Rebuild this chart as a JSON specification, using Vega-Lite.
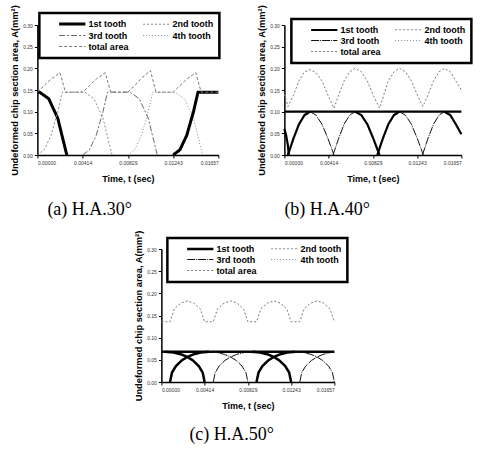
{
"$schema": "https://vega.github.io/schema/vega-lite/v6.json",
"background": "white",
"padding": {"left": 10, "top": 4, "right": 2, "bottom": 2},
"config": {
 "view": {"stroke": null},
 "font": "Liberation Sans",
 "axis": {"domainColor": "black", "domainWidth": 1.5, "tickColor": "black", "tickSize": 3, "labelFontSize": 5, "labelColor": "#333", "titleFontSize": 9, "titleFontWeight": "bold", "titleColor": "black", "grid": false, "labelPadding": 2},
 "axisX": {"titlePadding": 9},
 "axisY": {"titleFontSize": 9.3, "titlePadding": 3},
 "legend": {"strokeWidth": 2.5, "orient": "none", "columns": 2, "direction": "horizontal", "title": null, "symbolType": "M2.5,0H10", "symbolSize": 49, "labelOffset": 33, "labelFontSize": 9, "labelFontWeight": "bold", "labelColor": "black", "strokeColor": "black", "fillColor": "white", "padding": 6, "columnPadding": 0, "rowPadding": 1},
 "title": {"font": "Liberation Serif", "fontSize": 18, "fontWeight": "normal", "orient": "bottom", "anchor": "start", "frame": "group", "offset": 18, "color": "black"}
},
"datasets": {
 "curves": [
  {"panel":"a","series":"1st tooth","seg":"a1","t_ms":0,"A":0.145},
  {"panel":"a","series":"1st tooth","seg":"a1","t_ms":0.207,"A":0.145},
  {"panel":"a","series":"1st tooth","seg":"a1","t_ms":1.036,"A":0.13},
  {"panel":"a","series":"1st tooth","seg":"a1","t_ms":1.864,"A":0.085},
  {"panel":"a","series":"1st tooth","seg":"a1","t_ms":2.693,"A":0},
  {"panel":"a","series":"2nd tooth","seg":"a2","t_ms":0,"A":0},
  {"panel":"a","series":"2nd tooth","seg":"a2","t_ms":0.621,"A":0.012},
  {"panel":"a","series":"2nd tooth","seg":"a2","t_ms":1.243,"A":0.045},
  {"panel":"a","series":"2nd tooth","seg":"a2","t_ms":1.864,"A":0.1},
  {"panel":"a","series":"2nd tooth","seg":"a2","t_ms":2.278,"A":0.145},
  {"panel":"a","series":"2nd tooth","seg":"a2","t_ms":4.350,"A":0.145},
  {"panel":"a","series":"2nd tooth","seg":"a2","t_ms":5.178,"A":0.13},
  {"panel":"a","series":"2nd tooth","seg":"a2","t_ms":6.007,"A":0.085},
  {"panel":"a","series":"2nd tooth","seg":"a2","t_ms":6.835,"A":0},
  {"panel":"a","series":"3rd tooth","seg":"a3","t_ms":4.143,"A":0},
  {"panel":"a","series":"3rd tooth","seg":"a3","t_ms":4.764,"A":0.012},
  {"panel":"a","series":"3rd tooth","seg":"a3","t_ms":5.385,"A":0.045},
  {"panel":"a","series":"3rd tooth","seg":"a3","t_ms":6.006,"A":0.1},
  {"panel":"a","series":"3rd tooth","seg":"a3","t_ms":6.421,"A":0.145},
  {"panel":"a","series":"3rd tooth","seg":"a3","t_ms":8.492,"A":0.145},
  {"panel":"a","series":"3rd tooth","seg":"a3","t_ms":9.321,"A":0.13},
  {"panel":"a","series":"3rd tooth","seg":"a3","t_ms":10.149,"A":0.085},
  {"panel":"a","series":"3rd tooth","seg":"a3","t_ms":10.978,"A":0},
  {"panel":"a","series":"4th tooth","seg":"a4","t_ms":8.285,"A":0},
  {"panel":"a","series":"4th tooth","seg":"a4","t_ms":8.906,"A":0.012},
  {"panel":"a","series":"4th tooth","seg":"a4","t_ms":9.527,"A":0.045},
  {"panel":"a","series":"4th tooth","seg":"a4","t_ms":10.149,"A":0.1},
  {"panel":"a","series":"4th tooth","seg":"a4","t_ms":10.563,"A":0.145},
  {"panel":"a","series":"4th tooth","seg":"a4","t_ms":12.635,"A":0.145},
  {"panel":"a","series":"4th tooth","seg":"a4","t_ms":13.463,"A":0.13},
  {"panel":"a","series":"4th tooth","seg":"a4","t_ms":14.292,"A":0.085},
  {"panel":"a","series":"4th tooth","seg":"a4","t_ms":15.120,"A":0},
  {"panel":"a","series":"1st tooth","seg":"a5","t_ms":12.428,"A":0},
  {"panel":"a","series":"1st tooth","seg":"a5","t_ms":13.049,"A":0.012},
  {"panel":"a","series":"1st tooth","seg":"a5","t_ms":13.670,"A":0.045},
  {"panel":"a","series":"1st tooth","seg":"a5","t_ms":14.292,"A":0.1},
  {"panel":"a","series":"1st tooth","seg":"a5","t_ms":14.706,"A":0.145},
  {"panel":"a","series":"1st tooth","seg":"a5","t_ms":16.57,"A":0.145},
  {"panel":"a","series":"total area","seg":"a6","t_ms":0,"A":0.145},
  {"panel":"a","series":"total area","seg":"a6","t_ms":0.621,"A":0.16},
  {"panel":"a","series":"total area","seg":"a6","t_ms":1.243,"A":0.175},
  {"panel":"a","series":"total area","seg":"a6","t_ms":2.071,"A":0.19},
  {"panel":"a","series":"total area","seg":"a6","t_ms":2.568,"A":0.145},
  {"panel":"a","series":"total area","seg":"a6","t_ms":4.143,"A":0.145},
  {"panel":"a","series":"total area","seg":"a6","t_ms":4.764,"A":0.16},
  {"panel":"a","series":"total area","seg":"a6","t_ms":5.385,"A":0.175},
  {"panel":"a","series":"total area","seg":"a6","t_ms":6.214,"A":0.19},
  {"panel":"a","series":"total area","seg":"a6","t_ms":6.711,"A":0.145},
  {"panel":"a","series":"total area","seg":"a6","t_ms":8.285,"A":0.145},
  {"panel":"a","series":"total area","seg":"a6","t_ms":8.906,"A":0.16},
  {"panel":"a","series":"total area","seg":"a6","t_ms":9.527,"A":0.177},
  {"panel":"a","series":"total area","seg":"a6","t_ms":10.356,"A":0.195},
  {"panel":"a","series":"total area","seg":"a6","t_ms":10.853,"A":0.145},
  {"panel":"a","series":"total area","seg":"a6","t_ms":12.428,"A":0.145},
  {"panel":"a","series":"total area","seg":"a6","t_ms":13.049,"A":0.16},
  {"panel":"a","series":"total area","seg":"a6","t_ms":13.670,"A":0.175},
  {"panel":"a","series":"total area","seg":"a6","t_ms":14.499,"A":0.19},
  {"panel":"a","series":"total area","seg":"a6","t_ms":14.996,"A":0.145},
  {"panel":"a","series":"total area","seg":"a6","t_ms":16.57,"A":0.145},

  {"panel":"b","series":"1st tooth","seg":"b1","t_ms":0,"A":0.06},
  {"panel":"b","series":"1st tooth","seg":"b1","t_ms":0.166,"A":0.045},
  {"panel":"b","series":"1st tooth","seg":"b1","t_ms":0.331,"A":0.022},
  {"panel":"b","series":"1st tooth","seg":"b1","t_ms":0.414,"A":0},
  {"panel":"b","series":"1st tooth","seg":"b2","t_ms":0.331,"A":0},
  {"panel":"b","series":"1st tooth","seg":"b2","t_ms":0.849,"A":0.038},
  {"panel":"b","series":"1st tooth","seg":"b2","t_ms":1.367,"A":0.071},
  {"panel":"b","series":"1st tooth","seg":"b2","t_ms":1.885,"A":0.092},
  {"panel":"b","series":"1st tooth","seg":"b2","t_ms":2.403,"A":0.1},
  {"panel":"b","series":"1st tooth","seg":"b3","t_ms":6.628,"A":0.1},
  {"panel":"b","series":"1st tooth","seg":"b3","t_ms":7.208,"A":0.092},
  {"panel":"b","series":"1st tooth","seg":"b3","t_ms":7.767,"A":0.071},
  {"panel":"b","series":"1st tooth","seg":"b3","t_ms":8.326,"A":0.038},
  {"panel":"b","series":"1st tooth","seg":"b3","t_ms":8.906,"A":0},
  {"panel":"b","series":"1st tooth","seg":"b4","t_ms":8.699,"A":0},
  {"panel":"b","series":"1st tooth","seg":"b4","t_ms":9.217,"A":0.038},
  {"panel":"b","series":"1st tooth","seg":"b4","t_ms":9.735,"A":0.071},
  {"panel":"b","series":"1st tooth","seg":"b4","t_ms":10.253,"A":0.092},
  {"panel":"b","series":"1st tooth","seg":"b4","t_ms":10.771,"A":0.1},
  {"panel":"b","series":"1st tooth","seg":"b5","t_ms":14.996,"A":0.1},
  {"panel":"b","series":"1st tooth","seg":"b5","t_ms":15.534,"A":0.092},
  {"panel":"b","series":"1st tooth","seg":"b5","t_ms":16.052,"A":0.071},
  {"panel":"b","series":"1st tooth","seg":"b5","t_ms":16.57,"A":0.048},
  {"panel":"b","series":"1st tooth","seg":"b6","t_ms":0,"A":0.1},
  {"panel":"b","series":"1st tooth","seg":"b6","t_ms":16.57,"A":0.1},
  {"panel":"b","series":"3rd tooth","seg":"c1","t_ms":2.403,"A":0.1},
  {"panel":"b","series":"3rd tooth","seg":"c1","t_ms":2.962,"A":0.092},
  {"panel":"b","series":"3rd tooth","seg":"c1","t_ms":3.521,"A":0.071},
  {"panel":"b","series":"3rd tooth","seg":"c1","t_ms":4.080,"A":0.038},
  {"panel":"b","series":"3rd tooth","seg":"c1","t_ms":4.640,"A":0},
  {"panel":"b","series":"3rd tooth","seg":"c2","t_ms":4.557,"A":0},
  {"panel":"b","series":"3rd tooth","seg":"c2","t_ms":5.075,"A":0.038},
  {"panel":"b","series":"3rd tooth","seg":"c2","t_ms":5.592,"A":0.071},
  {"panel":"b","series":"3rd tooth","seg":"c2","t_ms":6.110,"A":0.092},
  {"panel":"b","series":"3rd tooth","seg":"c2","t_ms":6.628,"A":0.1},
  {"panel":"b","series":"3rd tooth","seg":"c3","t_ms":10.771,"A":0.1},
  {"panel":"b","series":"3rd tooth","seg":"c3","t_ms":11.330,"A":0.092},
  {"panel":"b","series":"3rd tooth","seg":"c3","t_ms":11.889,"A":0.071},
  {"panel":"b","series":"3rd tooth","seg":"c3","t_ms":12.448,"A":0.038},
  {"panel":"b","series":"3rd tooth","seg":"c3","t_ms":13.007,"A":0},
  {"panel":"b","series":"3rd tooth","seg":"c4","t_ms":12.925,"A":0},
  {"panel":"b","series":"3rd tooth","seg":"c4","t_ms":13.442,"A":0.038},
  {"panel":"b","series":"3rd tooth","seg":"c4","t_ms":13.960,"A":0.071},
  {"panel":"b","series":"3rd tooth","seg":"c4","t_ms":14.478,"A":0.092},
  {"panel":"b","series":"3rd tooth","seg":"c4","t_ms":14.996,"A":0.1},
  {"panel":"b","series":"total area","seg":"w","t_ms":0,"A":0.14},
  {"panel":"b","series":"total area","seg":"w","t_ms":0.331,"A":0.112},
  {"panel":"b","series":"total area","seg":"w","t_ms":0.849,"A":0.138},
  {"panel":"b","series":"total area","seg":"w","t_ms":1.367,"A":0.171},
  {"panel":"b","series":"total area","seg":"w","t_ms":1.885,"A":0.192},
  {"panel":"b","series":"total area","seg":"w","t_ms":2.403,"A":0.197},
  {"panel":"b","series":"total area","seg":"w","t_ms":2.962,"A":0.19},
  {"panel":"b","series":"total area","seg":"w","t_ms":3.521,"A":0.171},
  {"panel":"b","series":"total area","seg":"w","t_ms":4.080,"A":0.138},
  {"panel":"b","series":"total area","seg":"w","t_ms":4.640,"A":0.108},
  {"panel":"b","series":"total area","seg":"w","t_ms":5.075,"A":0.138},
  {"panel":"b","series":"total area","seg":"w","t_ms":5.592,"A":0.171},
  {"panel":"b","series":"total area","seg":"w","t_ms":6.110,"A":0.192},
  {"panel":"b","series":"total area","seg":"w","t_ms":6.628,"A":0.2},
  {"panel":"b","series":"total area","seg":"w","t_ms":7.208,"A":0.192},
  {"panel":"b","series":"total area","seg":"w","t_ms":7.767,"A":0.171},
  {"panel":"b","series":"total area","seg":"w","t_ms":8.326,"A":0.138},
  {"panel":"b","series":"total area","seg":"w","t_ms":8.906,"A":0.108},
  {"panel":"b","series":"total area","seg":"w","t_ms":9.321,"A":0.14},
  {"panel":"b","series":"total area","seg":"w","t_ms":9.735,"A":0.171},
  {"panel":"b","series":"total area","seg":"w","t_ms":10.253,"A":0.192},
  {"panel":"b","series":"total area","seg":"w","t_ms":10.771,"A":0.2},
  {"panel":"b","series":"total area","seg":"w","t_ms":11.330,"A":0.192},
  {"panel":"b","series":"total area","seg":"w","t_ms":11.889,"A":0.171},
  {"panel":"b","series":"total area","seg":"w","t_ms":12.448,"A":0.138},
  {"panel":"b","series":"total area","seg":"w","t_ms":12.966,"A":0.112},
  {"panel":"b","series":"total area","seg":"w","t_ms":13.442,"A":0.138},
  {"panel":"b","series":"total area","seg":"w","t_ms":13.960,"A":0.171},
  {"panel":"b","series":"total area","seg":"w","t_ms":14.478,"A":0.192},
  {"panel":"b","series":"total area","seg":"w","t_ms":14.996,"A":0.2},
  {"panel":"b","series":"total area","seg":"w","t_ms":15.534,"A":0.192},
  {"panel":"b","series":"total area","seg":"w","t_ms":16.052,"A":0.171},
  {"panel":"b","series":"total area","seg":"w","t_ms":16.57,"A":0.15},

  {"panel":"c","series":"1st tooth","seg":"h0","t_ms":0,"A":0.068},
  {"panel":"c","series":"1st tooth","seg":"h0","t_ms":16.57,"A":0.068},
  {"panel":"c","series":"1st tooth","seg":"h1f","t_ms":0.414,"A":0.068},
  {"panel":"c","series":"1st tooth","seg":"h1f","t_ms":1.160,"A":0.0666},
  {"panel":"c","series":"1st tooth","seg":"h1f","t_ms":1.906,"A":0.0623},
  {"panel":"c","series":"1st tooth","seg":"h1f","t_ms":2.486,"A":0.0565},
  {"panel":"c","series":"1st tooth","seg":"h1f","t_ms":3.024,"A":0.0486},
  {"panel":"c","series":"1st tooth","seg":"h1f","t_ms":3.583,"A":0.0358},
  {"panel":"c","series":"1st tooth","seg":"h1f","t_ms":3.956,"A":0.0212},
  {"panel":"c","series":"1st tooth","seg":"h1f","t_ms":4.143,"A":0},
  {"panel":"c","series":"1st tooth","seg":"h2r","t_ms":0.829,"A":0},
  {"panel":"c","series":"1st tooth","seg":"h2r","t_ms":1.015,"A":0.0212},
  {"panel":"c","series":"1st tooth","seg":"h2r","t_ms":1.388,"A":0.0358},
  {"panel":"c","series":"1st tooth","seg":"h2r","t_ms":1.947,"A":0.0486},
  {"panel":"c","series":"1st tooth","seg":"h2r","t_ms":2.486,"A":0.0565},
  {"panel":"c","series":"1st tooth","seg":"h2r","t_ms":3.065,"A":0.0623},
  {"panel":"c","series":"1st tooth","seg":"h2r","t_ms":3.811,"A":0.0666},
  {"panel":"c","series":"1st tooth","seg":"h2r","t_ms":4.557,"A":0.068},
  {"panel":"c","series":"3rd tooth","seg":"h2f","t_ms":4.557,"A":0.068},
  {"panel":"c","series":"3rd tooth","seg":"h2f","t_ms":5.302,"A":0.0666},
  {"panel":"c","series":"3rd tooth","seg":"h2f","t_ms":6.048,"A":0.0623},
  {"panel":"c","series":"3rd tooth","seg":"h2f","t_ms":6.628,"A":0.0565},
  {"panel":"c","series":"3rd tooth","seg":"h2f","t_ms":7.167,"A":0.0486},
  {"panel":"c","series":"3rd tooth","seg":"h2f","t_ms":7.726,"A":0.0358},
  {"panel":"c","series":"3rd tooth","seg":"h2f","t_ms":8.098,"A":0.0212},
  {"panel":"c","series":"3rd tooth","seg":"h2f","t_ms":8.285,"A":0},
  {"panel":"c","series":"3rd tooth","seg":"h3r","t_ms":4.971,"A":0},
  {"panel":"c","series":"3rd tooth","seg":"h3r","t_ms":5.157,"A":0.0212},
  {"panel":"c","series":"3rd tooth","seg":"h3r","t_ms":5.530,"A":0.0358},
  {"panel":"c","series":"3rd tooth","seg":"h3r","t_ms":6.090,"A":0.0486},
  {"panel":"c","series":"3rd tooth","seg":"h3r","t_ms":6.628,"A":0.0565},
  {"panel":"c","series":"3rd tooth","seg":"h3r","t_ms":7.208,"A":0.0623},
  {"panel":"c","series":"3rd tooth","seg":"h3r","t_ms":7.954,"A":0.0666},
  {"panel":"c","series":"3rd tooth","seg":"h3r","t_ms":8.699,"A":0.068},
  {"panel":"c","series":"1st tooth","seg":"h3f","t_ms":8.699,"A":0.068},
  {"panel":"c","series":"1st tooth","seg":"h3f","t_ms":9.445,"A":0.0666},
  {"panel":"c","series":"1st tooth","seg":"h3f","t_ms":10.191,"A":0.0623},
  {"panel":"c","series":"1st tooth","seg":"h3f","t_ms":10.771,"A":0.0565},
  {"panel":"c","series":"1st tooth","seg":"h3f","t_ms":11.309,"A":0.0486},
  {"panel":"c","series":"1st tooth","seg":"h3f","t_ms":11.868,"A":0.0358},
  {"panel":"c","series":"1st tooth","seg":"h3f","t_ms":12.241,"A":0.0212},
  {"panel":"c","series":"1st tooth","seg":"h3f","t_ms":12.428,"A":0},
  {"panel":"c","series":"1st tooth","seg":"h4r","t_ms":9.114,"A":0},
  {"panel":"c","series":"1st tooth","seg":"h4r","t_ms":9.300,"A":0.0212},
  {"panel":"c","series":"1st tooth","seg":"h4r","t_ms":9.673,"A":0.0358},
  {"panel":"c","series":"1st tooth","seg":"h4r","t_ms":10.232,"A":0.0486},
  {"panel":"c","series":"1st tooth","seg":"h4r","t_ms":10.771,"A":0.0565},
  {"panel":"c","series":"1st tooth","seg":"h4r","t_ms":11.350,"A":0.0623},
  {"panel":"c","series":"1st tooth","seg":"h4r","t_ms":12.096,"A":0.0666},
  {"panel":"c","series":"1st tooth","seg":"h4r","t_ms":12.842,"A":0.068},
  {"panel":"c","series":"3rd tooth","seg":"h4f","t_ms":12.842,"A":0.068},
  {"panel":"c","series":"3rd tooth","seg":"h4f","t_ms":13.587,"A":0.0666},
  {"panel":"c","series":"3rd tooth","seg":"h4f","t_ms":14.333,"A":0.0623},
  {"panel":"c","series":"3rd tooth","seg":"h4f","t_ms":14.913,"A":0.0565},
  {"panel":"c","series":"3rd tooth","seg":"h4f","t_ms":15.452,"A":0.0486},
  {"panel":"c","series":"3rd tooth","seg":"h4f","t_ms":16.011,"A":0.0358},
  {"panel":"c","series":"3rd tooth","seg":"h4f","t_ms":16.383,"A":0.0212},
  {"panel":"c","series":"3rd tooth","seg":"h4f","t_ms":16.57,"A":0},
  {"panel":"c","series":"3rd tooth","seg":"h5r","t_ms":13.256,"A":0},
  {"panel":"c","series":"3rd tooth","seg":"h5r","t_ms":13.442,"A":0.0212},
  {"panel":"c","series":"3rd tooth","seg":"h5r","t_ms":13.815,"A":0.0358},
  {"panel":"c","series":"3rd tooth","seg":"h5r","t_ms":14.375,"A":0.0486},
  {"panel":"c","series":"3rd tooth","seg":"h5r","t_ms":14.913,"A":0.0565},
  {"panel":"c","series":"3rd tooth","seg":"h5r","t_ms":15.493,"A":0.0623},
  {"panel":"c","series":"3rd tooth","seg":"h5r","t_ms":16.239,"A":0.0666},
  {"panel":"c","series":"3rd tooth","seg":"h5r","t_ms":16.57,"A":0.0676},
  {"panel":"c","series":"total area","seg":"w","t_ms":0,"A":0.135},
  {"panel":"c","series":"total area","seg":"w","t_ms":0.414,"A":0.136},
  {"panel":"c","series":"total area","seg":"w","t_ms":0.829,"A":0.136},
  {"panel":"c","series":"total area","seg":"w","t_ms":1.243,"A":0.165},
  {"panel":"c","series":"total area","seg":"w","t_ms":1.864,"A":0.178},
  {"panel":"c","series":"total area","seg":"w","t_ms":2.486,"A":0.183},
  {"panel":"c","series":"total area","seg":"w","t_ms":3.107,"A":0.178},
  {"panel":"c","series":"total area","seg":"w","t_ms":3.728,"A":0.165},
  {"panel":"c","series":"total area","seg":"w","t_ms":4.143,"A":0.136},
  {"panel":"c","series":"total area","seg":"w","t_ms":4.557,"A":0.136},
  {"panel":"c","series":"total area","seg":"w","t_ms":4.971,"A":0.136},
  {"panel":"c","series":"total area","seg":"w","t_ms":5.385,"A":0.165},
  {"panel":"c","series":"total area","seg":"w","t_ms":6.007,"A":0.178},
  {"panel":"c","series":"total area","seg":"w","t_ms":6.628,"A":0.183},
  {"panel":"c","series":"total area","seg":"w","t_ms":7.249,"A":0.178},
  {"panel":"c","series":"total area","seg":"w","t_ms":7.871,"A":0.165},
  {"panel":"c","series":"total area","seg":"w","t_ms":8.285,"A":0.136},
  {"panel":"c","series":"total area","seg":"w","t_ms":8.699,"A":0.136},
  {"panel":"c","series":"total area","seg":"w","t_ms":9.114,"A":0.136},
  {"panel":"c","series":"total area","seg":"w","t_ms":9.527,"A":0.165},
  {"panel":"c","series":"total area","seg":"w","t_ms":10.149,"A":0.178},
  {"panel":"c","series":"total area","seg":"w","t_ms":10.771,"A":0.183},
  {"panel":"c","series":"total area","seg":"w","t_ms":11.392,"A":0.178},
  {"panel":"c","series":"total area","seg":"w","t_ms":12.013,"A":0.165},
  {"panel":"c","series":"total area","seg":"w","t_ms":12.428,"A":0.136},
  {"panel":"c","series":"total area","seg":"w","t_ms":12.842,"A":0.136},
  {"panel":"c","series":"total area","seg":"w","t_ms":13.256,"A":0.136},
  {"panel":"c","series":"total area","seg":"w","t_ms":13.670,"A":0.165},
  {"panel":"c","series":"total area","seg":"w","t_ms":14.292,"A":0.178},
  {"panel":"c","series":"total area","seg":"w","t_ms":14.913,"A":0.183},
  {"panel":"c","series":"total area","seg":"w","t_ms":15.535,"A":0.178},
  {"panel":"c","series":"total area","seg":"w","t_ms":16.156,"A":0.165},
  {"panel":"c","series":"total area","seg":"w","t_ms":16.57,"A":0.136}
 ]
},
"vconcat": [
 {
  "hconcat": [
   {
    "title": {"text": "(a)  H.A.30°", "dx": 10},
    "width": 181, "height": 130,
    "data": {"name": "curves"},
    "transform": [{"filter": "datum.panel == 'a'"}],
    "mark": {"type": "line"},
    "encoding": {
     "x": {"field": "t_ms", "type": "quantitative", "scale": {"domain": [0, 16.57], "nice": false}, "axis": {"values": [0, 4.1425, 8.285, 12.4275, 16.57], "labelExpr": "format(datum.value/1000, '.5f')", "title": "Time, t (sec)"}},
     "y": {"field": "A", "type": "quantitative", "scale": {"domain": [0, 0.3], "nice": false}, "axis": {"values": [0, 0.05, 0.1, 0.15, 0.2, 0.25, 0.3], "format": ".2f", "title": "Undeformed chip section area, A(mm²)"}},
     "detail": {"field": "seg"},
     "color": {"field": "series", "type": "nominal", "scale": {"domain": ["1st tooth","2nd tooth","3rd tooth","4th tooth","total area"], "range": ["#000000","#8a8a8a","#6a6a6a","#8a8a8a","#7a7a7a"]},
      "legend": {"legendX": 2, "legendY": -12}},
     "strokeDash": {"field": "series", "type": "nominal", "scale": {"domain": ["1st tooth","2nd tooth","3rd tooth","4th tooth","total area"], "range": [[1,0],[2,2],[6,2,2,2],[1,2],[3,2]]}},
     "strokeWidth": {"field": "series", "type": "nominal", "scale": {"type": "ordinal", "domain": ["1st tooth","2nd tooth","3rd tooth","4th tooth","total area"], "range": [3,1,1,1,1]}}
    }
   },
   {
    "title": {"text": "(b)  H.A.40°", "dx": 0},
    "width": 177, "height": 130,
    "data": {"name": "curves"},
    "transform": [{"filter": "datum.panel == 'b'"}],
    "mark": {"type": "line"},
    "encoding": {
     "x": {"field": "t_ms", "type": "quantitative", "scale": {"domain": [0, 16.57], "nice": false}, "axis": {"values": [0, 4.1425, 8.285, 12.4275, 16.57], "labelExpr": "format(datum.value/1000, '.5f')", "title": "Time, t (sec)"}},
     "y": {"field": "A", "type": "quantitative", "scale": {"domain": [0, 0.3], "nice": false}, "axis": {"values": [0, 0.05, 0.1, 0.15, 0.2, 0.25, 0.3], "format": ".2f", "title": "Undeformed chip section area, A(mm²)"}},
     "detail": {"field": "seg"},
     "color": {"field": "series", "type": "nominal", "scale": {"domain": ["1st tooth","2nd tooth","3rd tooth","4th tooth","total area"], "range": ["#000000","#8a8a8a","#111111","#8a8a8a","#7a7a7a"]},
      "legend": {"legendX": 7, "legendY": -6}},
     "strokeDash": {"field": "series", "type": "nominal", "scale": {"domain": ["1st tooth","2nd tooth","3rd tooth","4th tooth","total area"], "range": [[1,0],[2,2],[8,1,1,1],[1,2],[2,2]]}},
     "strokeWidth": {"field": "series", "type": "nominal", "scale": {"type": "ordinal", "domain": ["1st tooth","2nd tooth","3rd tooth","4th tooth","total area"], "range": [2.2,1,1,1,1]}}
    }
   }
  ],
  "spacing": 33,
  "resolve": {"scale": {"color": "independent", "strokeDash": "independent", "strokeWidth": "independent"}}
 },
 {
  "title": {"text": "(c)  H.A.50°", "dx": 28, "offset": 16},
  "width": 173, "height": 133,
  "data": {"name": "curves"},
  "transform": [{"filter": "datum.panel == 'c'"}],
  "mark": {"type": "line"},
  "encoding": {
   "x": {"field": "t_ms", "type": "quantitative", "scale": {"domain": [0, 16.57], "nice": false}, "axis": {"values": [0, 4.1425, 8.285, 12.4275, 16.57], "labelExpr": "format(datum.value/1000, '.5f')", "title": "Time, t (sec)"}},
   "y": {"field": "A", "type": "quantitative", "scale": {"domain": [0, 0.3], "nice": false}, "axis": {"values": [0, 0.05, 0.1, 0.15, 0.2, 0.25, 0.3], "format": ".2f", "title": "Undeformed chip section area, A(mm²)"}},
   "detail": {"field": "seg"},
   "color": {"field": "series", "type": "nominal", "scale": {"domain": ["1st tooth","2nd tooth","3rd tooth","4th tooth","total area"], "range": ["#000000","#8a8a8a","#111111","#8a8a8a","#7a7a7a"]},
    "legend": {"legendX": 6, "legendY": -11}},
   "strokeDash": {"field": "series", "type": "nominal", "scale": {"domain": ["1st tooth","2nd tooth","3rd tooth","4th tooth","total area"], "range": [[1,0],[2,2],[8,1,1,1],[1,2],[2,2]]}},
   "strokeWidth": {"field": "series", "type": "nominal", "scale": {"type": "ordinal", "domain": ["1st tooth","2nd tooth","3rd tooth","4th tooth","total area"], "range": [2.5,1,1,1,1]}}
  }
 }
],
"spacing": 11,
"center": true,
"resolve": {"scale": {"color": "independent", "strokeDash": "independent", "strokeWidth": "independent"}}
}
